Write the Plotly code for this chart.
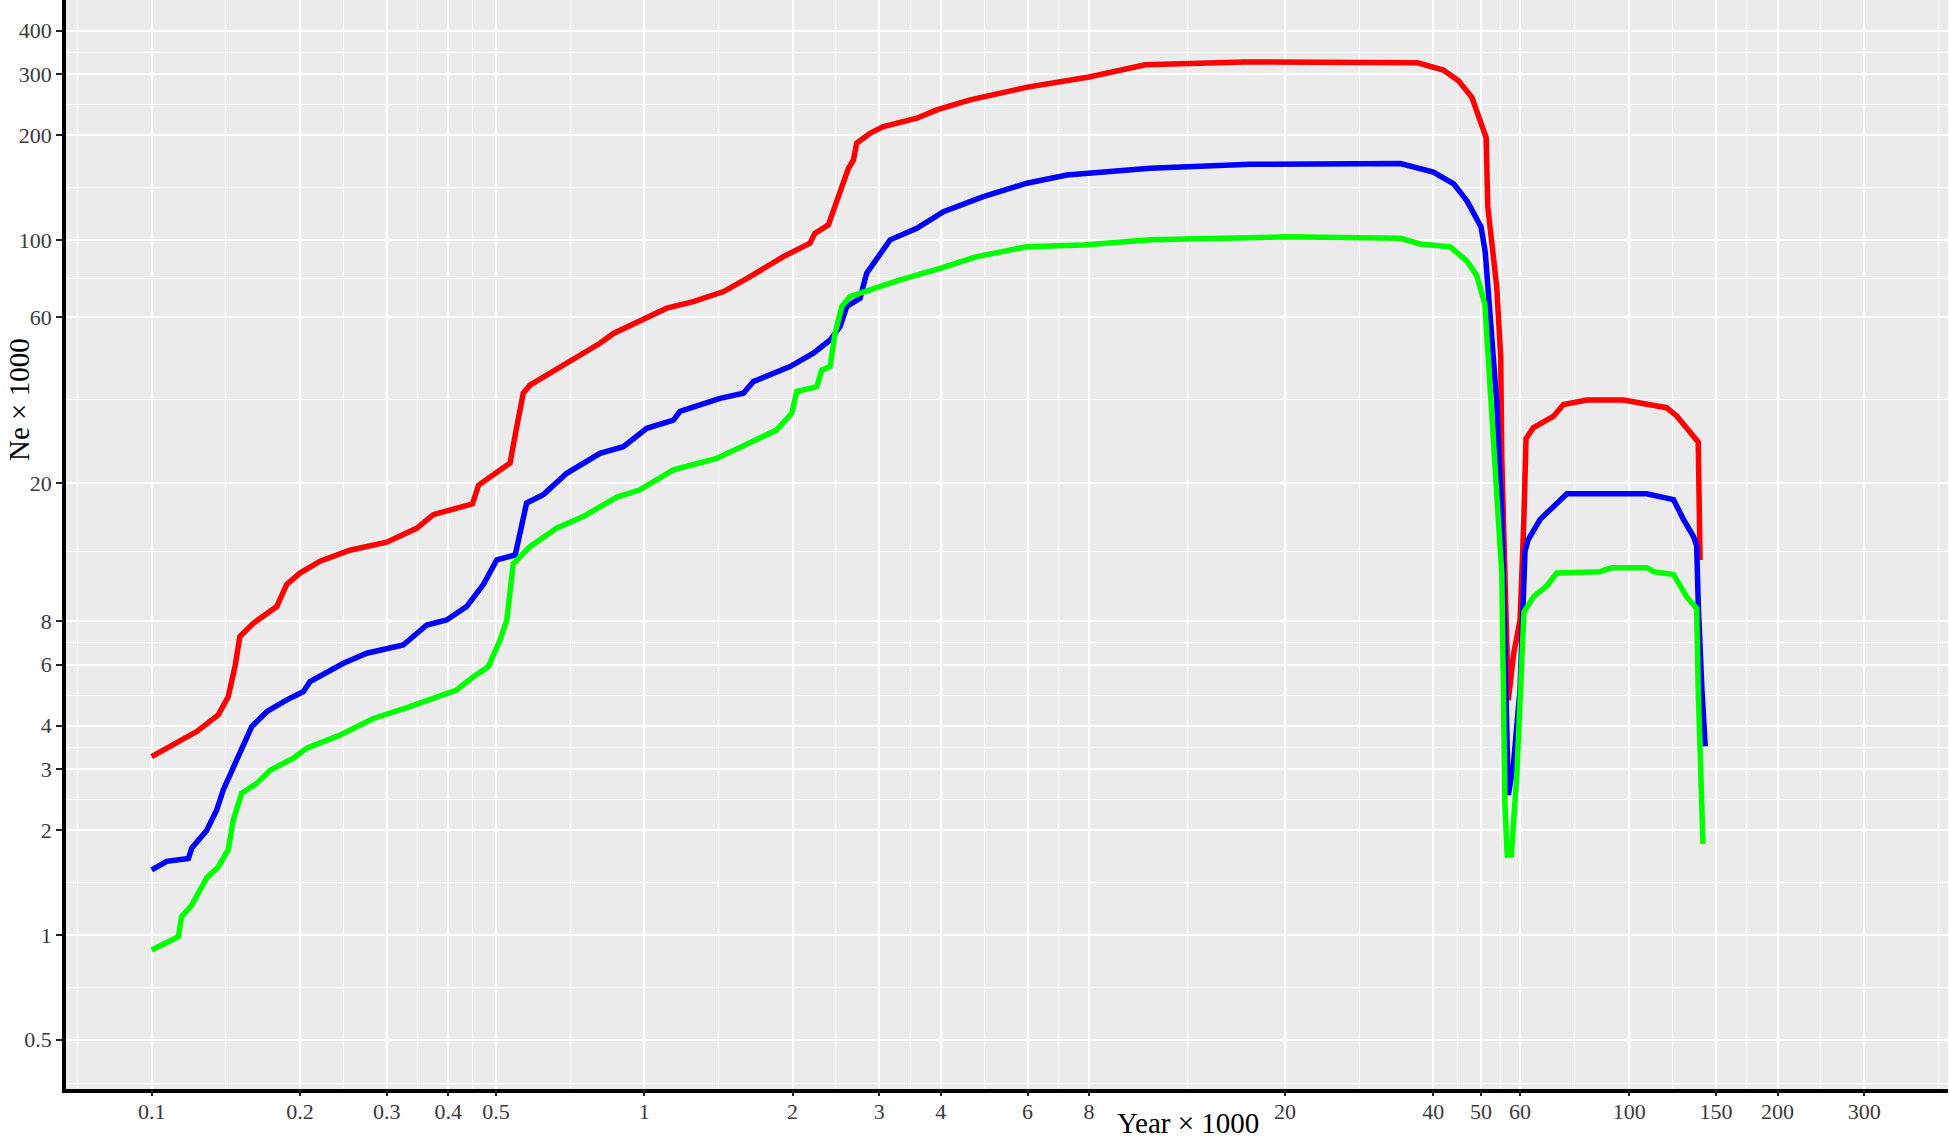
import math
import plotly.graph_objects as go

# ---------------- data ----------------
red_x = [0.1, 0.114, 0.1234, 0.1365, 0.143, 0.1476, 0.151, 0.1608, 0.1794, 0.188,
         0.2, 0.2197, 0.2527, 0.30, 0.345, 0.373, 0.40, 0.448, 0.461, 0.497,
         0.5096, 0.534, 0.551, 0.568, 0.586, 0.696, 0.813, 0.866, 1.0, 1.111,
         1.258, 1.45, 1.64, 1.916, 2.17, 2.22, 2.365, 2.46, 2.518, 2.597,
         2.659, 2.70, 2.873, 3.06, 3.576, 3.926, 4.587, 6.0, 8.0, 10.4,
         16.5, 29.5, 37.2, 41.9, 45.0, 47.9, 50.0, 51.2, 51.6, 53.8,
         54.8, 55.1, 55.9, 56.5, 56.8, 58.2, 60.0, 61.1, 61.7, 63.8,
         70.2, 73.5, 82.0, 97.3, 119.0, 124.9, 132.9, 138.0, 139.2]
red_y = [3.26, 3.64, 3.85, 4.3, 4.85, 5.92, 7.22, 7.89, 8.81, 10.2,
         11.0, 11.9, 12.8, 13.5, 14.8, 16.2, 16.7, 17.4, 19.7, 21.3,
         21.8, 22.8, 29.0, 36.2, 38.2, 44.2, 50.4, 53.8, 59.5, 63.6,
         66.4, 71.0, 78.4, 89.5, 97.8, 104.4, 110.4, 130.3, 140.8, 160.6,
         169.8, 189.7, 202.6, 211.7, 223.9, 236.6, 252.7, 275, 294, 319,
         325, 325, 323, 308, 287, 257, 216, 197, 124.6, 73.2,
         46.4, 23.4, 10.9, 5.1, 4.74, 6.42, 8.06, 16.0, 26.8, 28.8,
         31.1, 33.6, 34.6, 34.6, 32.9, 31.1, 27.8, 26.2, 12.0]

blue_x = [0.1, 0.1073, 0.1187, 0.1206, 0.1293, 0.1355, 0.1398, 0.1464, 0.1534, 0.1596,
          0.1712, 0.188, 0.203, 0.2096, 0.245, 0.2733, 0.324, 0.3618, 0.397, 0.436,
          0.4714, 0.5018, 0.547, 0.5597, 0.577, 0.624, 0.696, 0.813, 0.907, 1.012,
          1.146, 1.182, 1.425, 1.589, 1.665, 1.977, 2.205, 2.384, 2.498, 2.577,
          2.743, 2.829, 3.012, 3.156, 3.576, 4.05, 4.88, 5.98, 7.21, 9.11,
          10.64, 17.0, 25.0, 34.3, 40.0, 44.0, 46.8, 50.0, 51.0, 52.2,
          53.8, 55.1, 56.2, 56.8, 58.2, 60.0, 61.4, 62.3, 65.9, 70.2,
          74.7, 108.5, 122.9, 128.8, 135.0, 137.0, 138.0, 140.4, 142.6]
blue_y = [1.54, 1.63, 1.66, 1.78, 2.0, 2.29, 2.62, 3.05, 3.48, 3.98,
          4.39, 4.75, 5.01, 5.36, 6.05, 6.47, 6.83, 7.8, 8.06, 8.81,
          10.2, 12.0, 12.4, 14.3, 17.5, 18.5, 21.3, 24.3, 25.4, 28.7,
          30.3, 32.1, 35.0, 36.2, 39.1, 43.2, 47.2, 51.5, 56.3, 64.3,
          67.9, 80.2, 91.5, 100, 108, 120.5, 133.1, 145.5, 153.7, 157.1,
          160.7, 165, 166, 165.8, 156.7, 145, 129.5, 109, 91.9, 58.2,
          34.2, 16.0, 5.1, 2.53, 3.12, 5.1, 12.7, 13.7, 15.7, 17.2,
          18.6, 18.6, 17.9, 15.7, 14.0, 13.2, 9.0, 5.1, 3.49]

green_x = [0.1, 0.1073, 0.1133, 0.115, 0.1206, 0.1293, 0.1365, 0.143, 0.1464, 0.1523,
           0.1633, 0.174, 0.194, 0.2065, 0.241, 0.2818, 0.3344, 0.416, 0.45, 0.4826,
           0.5096, 0.526, 0.542, 0.586, 0.664, 0.752, 0.88, 0.98, 1.146, 1.403,
           1.64, 1.858, 1.993, 2.04, 2.24, 2.293, 2.384, 2.44, 2.518, 2.617,
           2.873, 3.307, 3.987, 4.73, 5.98, 7.79, 10.64, 20.0, 34.3, 37.6,
           43.3, 46.8, 49.0, 50.9, 52.2, 53.8, 55.1, 55.5, 55.9, 56.5,
           57.6, 59.1, 60.5, 61.1, 63.8, 68.0, 71.2, 87.2, 92.0, 108.5,
           111.9, 122.9, 130.8, 137.0, 138.0, 140.4, 141.1]
green_y = [0.906, 0.957, 0.99, 1.13, 1.22, 1.46, 1.57, 1.76, 2.14, 2.56,
           2.73, 2.98, 3.23, 3.45, 3.76, 4.2, 4.54, 5.07, 5.54, 5.92,
           7.06, 8.06, 11.7, 13.1, 14.8, 16.0, 18.2, 19.1, 21.8, 23.5,
           26.0, 28.4, 31.7, 36.6, 37.8, 42.2, 43.2, 53.8, 64.3, 68.7,
           71.8, 76.7, 82.8, 89.5, 95.5, 96.6, 100, 102, 101, 97.3,
           95.5, 86.8, 79, 65.3, 36.9, 19.3, 10.9, 5.1, 2.39, 1.70,
           1.70, 2.89, 6.18, 8.5, 9.39, 10.1, 11.0, 11.1, 11.4, 11.4,
           11.1, 10.9, 9.39, 8.7, 5.1, 2.39, 1.83]

x_ticks = [0.1, 0.2, 0.3, 0.4, 0.5, 1, 2, 3, 4, 6, 8, 20, 40, 50, 60, 100, 150, 200, 300]
x_tick_labels = ["0.1", "0.2", "0.3", "0.4", "0.5", "1", "2", "3", "4", "6", "8",
                 "20", "40", "50", "60", "100", "150", "200", "300"]
y_ticks = [0.5, 1, 2, 3, 4, 6, 8, 20, 60, 100, 200, 300, 400]
y_tick_labels = ["0.5", "1", "2", "3", "4", "6", "8", "20", "60", "100", "200", "300", "400"]

series = [("red", red_x, red_y, "#FF0000"),
          ("blue", blue_x, blue_y, "#0000FF"),
          ("green", green_x, green_y, "#00FF00")]

for name, xs, ys, _ in series:
    assert len(xs) == len(ys), (name, len(xs), len(ys))


def mids(breaks, lo_ext, hi_ext):
    vals = [lo_ext]
    for a, b in zip(breaks[:-1], breaks[1:]):
        vals.append(math.sqrt(a * b))
    if hi_ext is not None:
        vals.append(hi_ext)
    return vals


x_minor = mids(x_ticks, math.sqrt(0.1 * 0.05), math.sqrt(300 * 600))
y_minor = mids(y_ticks, 0.375, None)

X_RANGE = [-1.174, 2.647]
Y_RANGE = [-0.4428, 2.690]

# ---------------- figure ----------------
fig = go.Figure()
for name, xs, ys, col in series:
    fig.add_trace(go.Scatter(x=xs, y=ys, mode="lines", name=name,
                             line=dict(color=col, width=5.5), showlegend=False))

FONT = "Liberation Serif, Times New Roman, serif"
W, H = 1950, 1139
L, R, T, B = 66, 2, 0, 50

fig.update_layout(
    width=W, height=H,
    margin=dict(l=L, r=R, t=T, b=B, autoexpand=False),
    paper_bgcolor="white",
    plot_bgcolor="#EBEBEB",
    font=dict(family=FONT, size=22, color="#3a3a3a"),
    showlegend=False,
)

# primary x axis: labels + grid (no tick marks so labels sit closer to the line)
fig.update_layout(xaxis=dict(
    type="log", range=X_RANGE,
    tickmode="array", tickvals=x_ticks, ticktext=x_tick_labels,
    showgrid=True, gridcolor="white", gridwidth=2.2,
    minor=dict(tickmode="array", tickvals=x_minor, showgrid=True,
               gridcolor="white", gridwidth=1.1, ticks=""),
    showline=True, linecolor="black", linewidth=3.5,
    ticks="",
    tickfont=dict(family=FONT, size=22, color="#3a3a3a"),
    zeroline=False,
))
# overlay x axis: only the outside tick marks
fig.update_layout(xaxis2=dict(
    type="log", range=X_RANGE, overlaying="x", anchor="y", side="bottom",
    tickmode="array", tickvals=x_ticks, showticklabels=False,
    showgrid=False, showline=False, zeroline=False,
    ticks="outside", ticklen=6, tickwidth=2, tickcolor="#222",
))
fig.add_trace(go.Scatter(x=[x_ticks[0]], y=[y_ticks[0]], xaxis="x2", yaxis="y",
                         mode="markers", marker=dict(opacity=0), hoverinfo="skip",
                         showlegend=False))

fig.update_yaxes(
    type="log", range=Y_RANGE,
    tickmode="array", tickvals=y_ticks, ticktext=y_tick_labels,
    showgrid=True, gridcolor="white", gridwidth=2.2,
    minor=dict(tickmode="array", tickvals=y_minor, showgrid=True,
               gridcolor="white", gridwidth=1.1, ticks=""),
    showline=True, linecolor="black", linewidth=3.5,
    ticks="outside", ticklen=6, tickwidth=2, tickcolor="#222",
    tickfont=dict(family=FONT, size=22, color="#3a3a3a"),
    zeroline=False,
)

pw = W - L - R
ph = H - T - B
fig.add_annotation(text="Year × 1000", xref="paper", yref="paper",
                   x=(1188 - L) / pw, y=(H - B - 1123) / ph,
                   xanchor="center", yanchor="middle", showarrow=False,
                   font=dict(family=FONT, size=29, color="black"))
fig.add_annotation(text="Ne × 1000", xref="paper", yref="paper",
                   x=(19 - L) / pw, y=(H - B - 400) / ph, textangle=-90,
                   xanchor="center", yanchor="middle", showarrow=False,
                   font=dict(family=FONT, size=29, color="black"))

fig.write_html(
    "out.html",
    config={"displayModeBar": False},
    post_script="document.body.style.margin='0';document.body.style.padding='0';"
                "document.body.style.overflow='hidden';",
)
